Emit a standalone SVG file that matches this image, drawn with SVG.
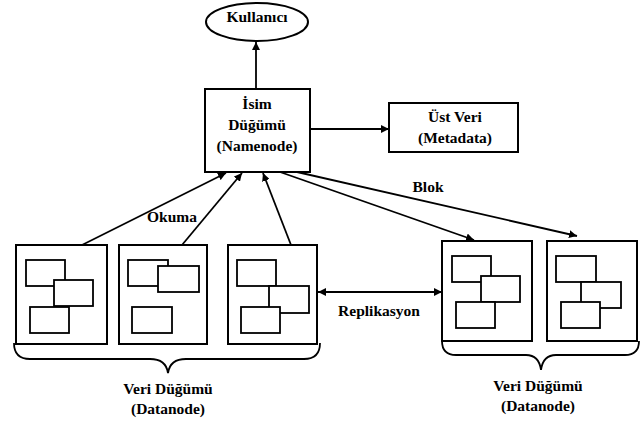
<svg xmlns="http://www.w3.org/2000/svg" width="643" height="421" viewBox="0 0 643 421">
<defs>
<marker id="ah" viewBox="0 0 10 10" refX="10" refY="5" markerWidth="8" markerHeight="8" markerUnits="userSpaceOnUse" orient="auto-start-reverse">
<path d="M0,0 L10,5 L0,10 z" fill="#000"/>
</marker>
</defs>
<style>
.box{fill:#fff;stroke:#000;stroke-width:2}
.in{fill:#fff;stroke:#000;stroke-width:1.8}
.t{font-family:"Liberation Serif","Times New Roman",serif;font-weight:bold;font-size:15.5px;text-anchor:middle;fill:#000}
.c{fill:none;stroke:#000;stroke-width:1.8;marker-end:url(#ah)}
.br{fill:none;stroke:#000;stroke-width:1.8}
</style>
<rect width="643" height="421" fill="#fff"/>
<g id="connectors">
<line class="c" x1="256" y1="89" x2="256" y2="42"/>
<line class="c" x1="310" y1="129" x2="389" y2="129"/>
<line class="c" x1="82" y1="245" x2="226" y2="173"/>
<line class="c" x1="182" y1="245" x2="242" y2="173"/>
<line class="c" x1="291" y1="245" x2="263" y2="173"/>
<line class="c" x1="280" y1="172" x2="474" y2="240"/>
<line class="c" x1="297" y1="172" x2="577" y2="236"/>
<line class="c" x1="318" y1="292" x2="442" y2="292" marker-start="url(#ah)"/>
</g>
<g id="kullanici">
<ellipse cx="257" cy="22" rx="51" ry="19" fill="#fff" stroke="#000" stroke-width="2"/>
<text class="t" x="257" y="22">Kullanıcı</text>
</g>
<g id="namenode">
<rect class="box" x="205" y="89" width="105" height="83"/>
<text class="t" x="257" y="109">İsim</text>
<text class="t" x="257" y="130">Düğümü</text>
<text class="t" x="257" y="151">(Namenode)</text>
</g>
<g id="metadata">
<rect class="box" x="389" y="103" width="129" height="49"/>
<text class="t" x="455" y="122">Üst Veri</text>
<text class="t" x="455" y="143">(Metadata)</text>
</g>
<g id="datanode1">
<rect class="box" x="16" y="245" width="91" height="99"/>
<rect class="in" x="26" y="260" width="39" height="26"/>
<rect class="in" x="54" y="280" width="39" height="26"/>
<rect class="in" x="30" y="307" width="39" height="26"/>
</g>
<g id="datanode2">
<rect class="box" x="119" y="245" width="88" height="99"/>
<rect class="in" x="128" y="260" width="40" height="26"/>
<rect class="in" x="158" y="266" width="41" height="26"/>
<rect class="in" x="132" y="307" width="40" height="26"/>
</g>
<g id="datanode3">
<rect class="box" x="228" y="245" width="89" height="99"/>
<rect class="in" x="237" y="260" width="39" height="26"/>
<rect class="in" x="269" y="286" width="40" height="27"/>
<rect class="in" x="241" y="307" width="39" height="26"/>
</g>
<g id="datanode4">
<rect class="box" x="442" y="241" width="90" height="100"/>
<rect class="in" x="452" y="256" width="39" height="26"/>
<rect class="in" x="481" y="276" width="39" height="26"/>
<rect class="in" x="456" y="302" width="39" height="26"/>
</g>
<g id="datanode5">
<rect class="box" x="547" y="241" width="90" height="100"/>
<rect class="in" x="556" y="256" width="40" height="26"/>
<rect class="in" x="581" y="282" width="40" height="26"/>
<rect class="in" x="561" y="302" width="39" height="26"/>
</g>
<g id="group-left">
<path class="br" d="M14,343 Q14,359 30,359 L150,359 Q166,359 168,373 Q170,359 186,359 L304,359 Q320,359 320,343"/>
<text class="t" x="168" y="394">Veri Düğümü</text>
<text class="t" x="168" y="414">(Datanode)</text>
</g>
<g id="group-right">
<path class="br" d="M442,341 Q442,355 456,355 L526,355 Q539,355 541,370 Q543,355 556,355 L625,355 Q639,355 639,341"/>
<text class="t" x="538" y="391">Veri Düğümü</text>
<text class="t" x="538" y="411">(Datanode)</text>
</g>
<g id="labels">
<text class="t" x="172" y="222">Okuma</text>
<text class="t" x="428" y="192">Blok</text>
<text class="t" x="379" y="316">Replikasyon</text>
</g>
</svg>
